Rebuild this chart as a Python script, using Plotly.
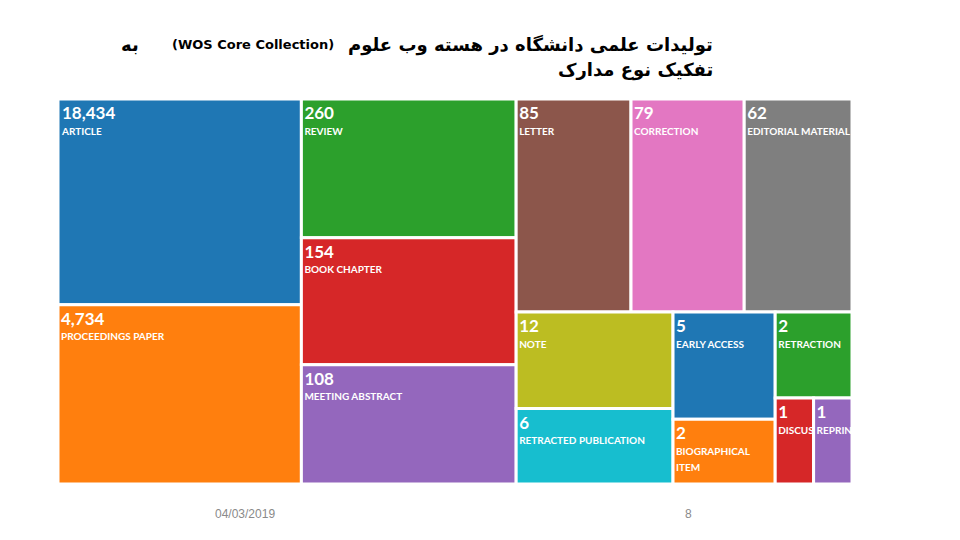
import numpy as np
import plotly.graph_objects as go

doc_types = ["ARTICLE", "PROCEEDINGS PAPER", "REVIEW", "BOOK CHAPTER", "MEETING ABSTRACT",
             "LETTER", "CORRECTION", "EDITORIAL MATERIAL", "NOTE", "RETRACTED PUBLICATION",
             "EARLY ACCESS", "BIOGRAPHICAL ITEM", "RETRACTION", "DISCUSSION", "REPRINT"]
counts = [18434, 4734, 260, 154, 108, 85, 79, 62, 12, 6, 5, 2, 2, 1, 1]
colors = ["#1f77b4", "#ff7f0e", "#2ca02c", "#d62728", "#9467bd",
          "#8c564b", "#e377c2", "#7f7f7f", "#bcbd22", "#17becf",
          "#1f77b4", "#ff7f0e", "#2ca02c", "#d62728", "#9467bd"]

title_main = "تولیدات علمی دانشگاه در هسته وب علوم"
title_src = "(WOS Core Collection)"
title_be = "به"
title_line2 = "تفکیک نوع مدارک"
footer_date = "04/03/2019"
footer_page = "8"

# WoS-style tile weights: logarithmic scale of the counts
weights = list(np.log10(2 * np.array(counts, dtype=float)))

root = "root"
labels = [root] + doc_types
parents = [""] + [root] * len(doc_types)
values = [0] + weights
display = [""] + [
    "<b><span style='font-size:17px'>%s</span></b><br><b><span style='font-size:10px'>%s</span></b>"
    % (f"{c:,}", n.replace("BIOGRAPHICAL ", "BIOGRAPHICAL<br>")) for n, c in zip(doc_types, counts)
]

fig = go.Figure(go.Treemap(
    labels=labels,
    parents=parents,
    values=values,
    text=display,
    texttemplate="%{text}",
    textposition="top left",
    textfont=dict(family="Lato, Open Sans, sans-serif", size=12, color="white"),
    marker=dict(colors=["white"] + colors, line=dict(color="white", width=3),
                pad=dict(t=0, l=0, r=0, b=0)),
    tiling=dict(squarifyratio=1.618034, pad=0),
    pathbar=dict(visible=False),
    sort=True,
    hoverinfo="skip",
))


def px_x(p):
    return (p - 58) / 794


def px_y(p):
    return (484 - p) / 385


def ann(text, x, y, xanchor, size, family="DejaVu Sans", color="black"):
    return dict(text=text, xref="paper", yref="paper", x=px_x(x), y=px_y(y),
                xanchor=xanchor, yanchor="middle", showarrow=False,
                font=dict(family=family, size=size, color=color))


fig.update_layout(
    width=952, height=532,
    margin=dict(l=50, r=108, t=91, b=56),
    paper_bgcolor="white",
    showlegend=False,
    uniformtext=dict(minsize=12, mode="show"),
    shapes=[dict(type="rect", xref="paper", yref="paper", x0=1.0, x1=1.2, y0=-0.02, y1=1.02,
                 fillcolor="white", line=dict(width=0), layer="above")],
    annotations=[
        ann("<b>" + title_main + "</b>", 715, 45, "right", 18),
        ann("<b>" + title_src + "</b>", 336, 45, "right", 13),
        ann("<b>" + title_be + "</b>", 141, 45, "right", 18),
        ann("<b>" + title_line2 + "</b>", 715, 70, "right", 18),
        ann(footer_date, 245, 514, "center", 12, "Liberation Sans", "#8a8a8a"),
        ann(footer_page, 688, 514, "center", 12, "Liberation Sans", "#8a8a8a"),
    ],
)

fig.write_html("out.html")
